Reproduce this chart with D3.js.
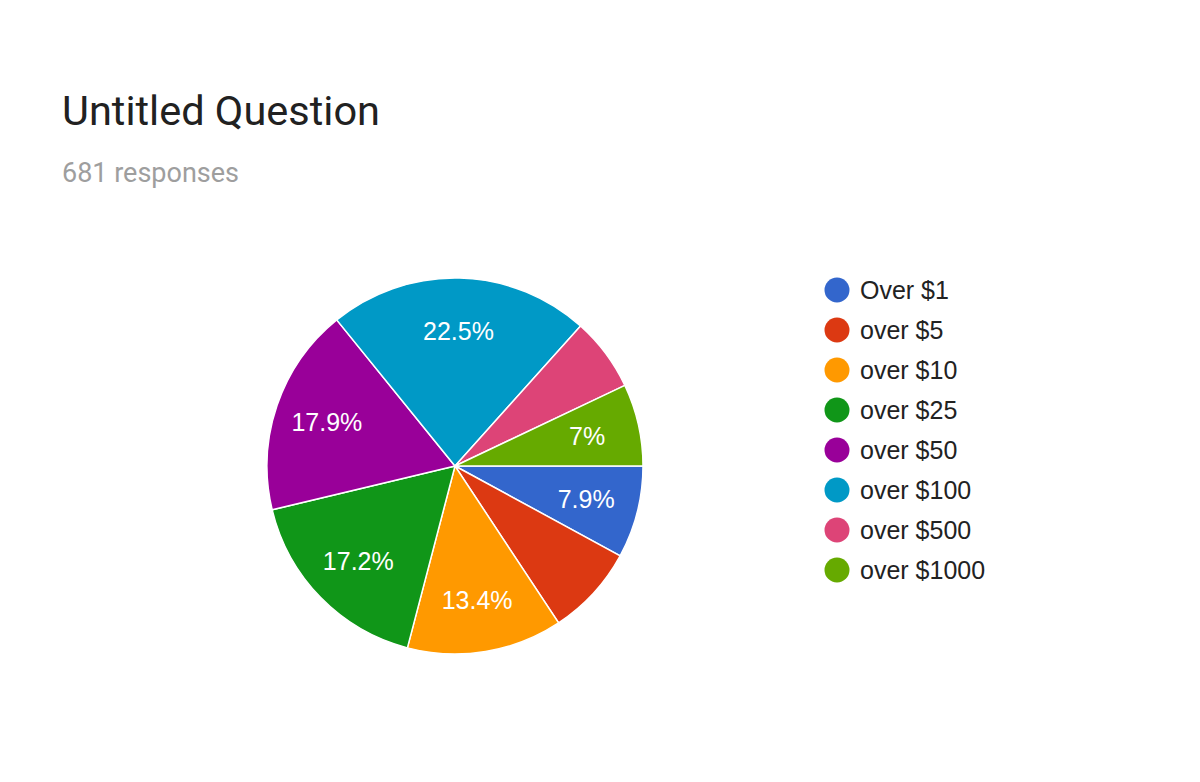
<!DOCTYPE html>
<html>
<head>
<meta charset="utf-8">
<script src="https://cdn.jsdelivr.net/npm/d3@7"></script>
<style>
  body { margin: 0; background: #fff; }
</style>
</head>
<body>
<svg id="chart"></svg>
<script>
const WIDTH = 1200;
const HEIGHT = 782;

// responses per answer (681 total)
const categories = ['Over $1', 'over $5', 'over $10', 'over $25', 'over $50', 'over $100', 'over $500', 'over $1000'];
const counts = [54, 53, 91, 117, 122, 153, 43, 48];
const colors = ['#3366cc', '#dc3912', '#ff9900', '#109618', '#990099', '#0099c6', '#dd4477', '#66aa00'];
// slices whose percentage is not printed in the original
const hiddenLabels = ['over $5', 'over $500'];

const total = d3.sum(counts);
const cx = 455, cy = 466, radius = 188;

const svg = d3.select('#chart')
  .attr('width', WIDTH)
  .attr('height', HEIGHT);

svg.append('text')
  .attr('x', 62)
  .attr('y', 125)
  .attr('font-family', 'Roboto')
  .attr('font-size', 41.5)
  .attr('fill', '#212121')
  .text('Untitled Question');

svg.append('text')
  .attr('x', 62)
  .attr('y', 182)
  .attr('font-family', 'Roboto')
  .attr('font-size', 27)
  .attr('fill', '#9e9e9e')
  .text(total + ' responses');

const pie = d3.pie()
  .sort(null)
  .value(d => d.count)
  .startAngle(Math.PI / 2)
  .endAngle(Math.PI / 2 + 2 * Math.PI);

const arc = d3.arc().innerRadius(0).outerRadius(radius);
const labelArc = d3.arc().innerRadius(radius * 0.72).outerRadius(radius * 0.72);

const rows = categories.map((c, i) => ({ name: c, count: counts[i], color: colors[i] }));

const g = svg.append('g').attr('transform', `translate(${cx},${cy})`);

g.selectAll('path')
  .data(pie(rows))
  .enter()
  .append('path')
  .attr('d', arc)
  .attr('fill', d => d.data.color)
  .attr('stroke', '#fff')
  .attr('stroke-width', 1.5);

const fmt = v => {
  let s = (Math.round(v * 10) / 10).toFixed(1);
  return s.replace(/\.0$/, '') + '%';
};

g.selectAll('text.pct')
  .data(pie(rows).filter(d => !hiddenLabels.includes(d.data.name)))
  .enter()
  .append('text')
  .attr('class', 'pct')
  .attr('transform', d => `translate(${labelArc.centroid(d)})`)
  .attr('text-anchor', 'middle')
  .attr('dominant-baseline', 'central')
  .attr('font-family', 'Arial, Liberation Sans')
  .attr('font-size', 25)
  .attr('fill', '#fff')
  .text(d => fmt(d.data.count / total * 100));

// legend
const legend = svg.append('g').attr('transform', 'translate(837,290)');
const item = legend.selectAll('g')
  .data(rows)
  .enter()
  .append('g')
  .attr('transform', (d, i) => `translate(0,${i * 40})`);

item.append('circle')
  .attr('r', 12.5)
  .attr('fill', d => d.color);

item.append('text')
  .attr('x', 23)
  .attr('dominant-baseline', 'central')
  .attr('font-family', 'Arial, Liberation Sans')
  .attr('font-size', 25)
  .attr('fill', '#222')
  .text(d => d.name);
</script>
</body>
</html>
